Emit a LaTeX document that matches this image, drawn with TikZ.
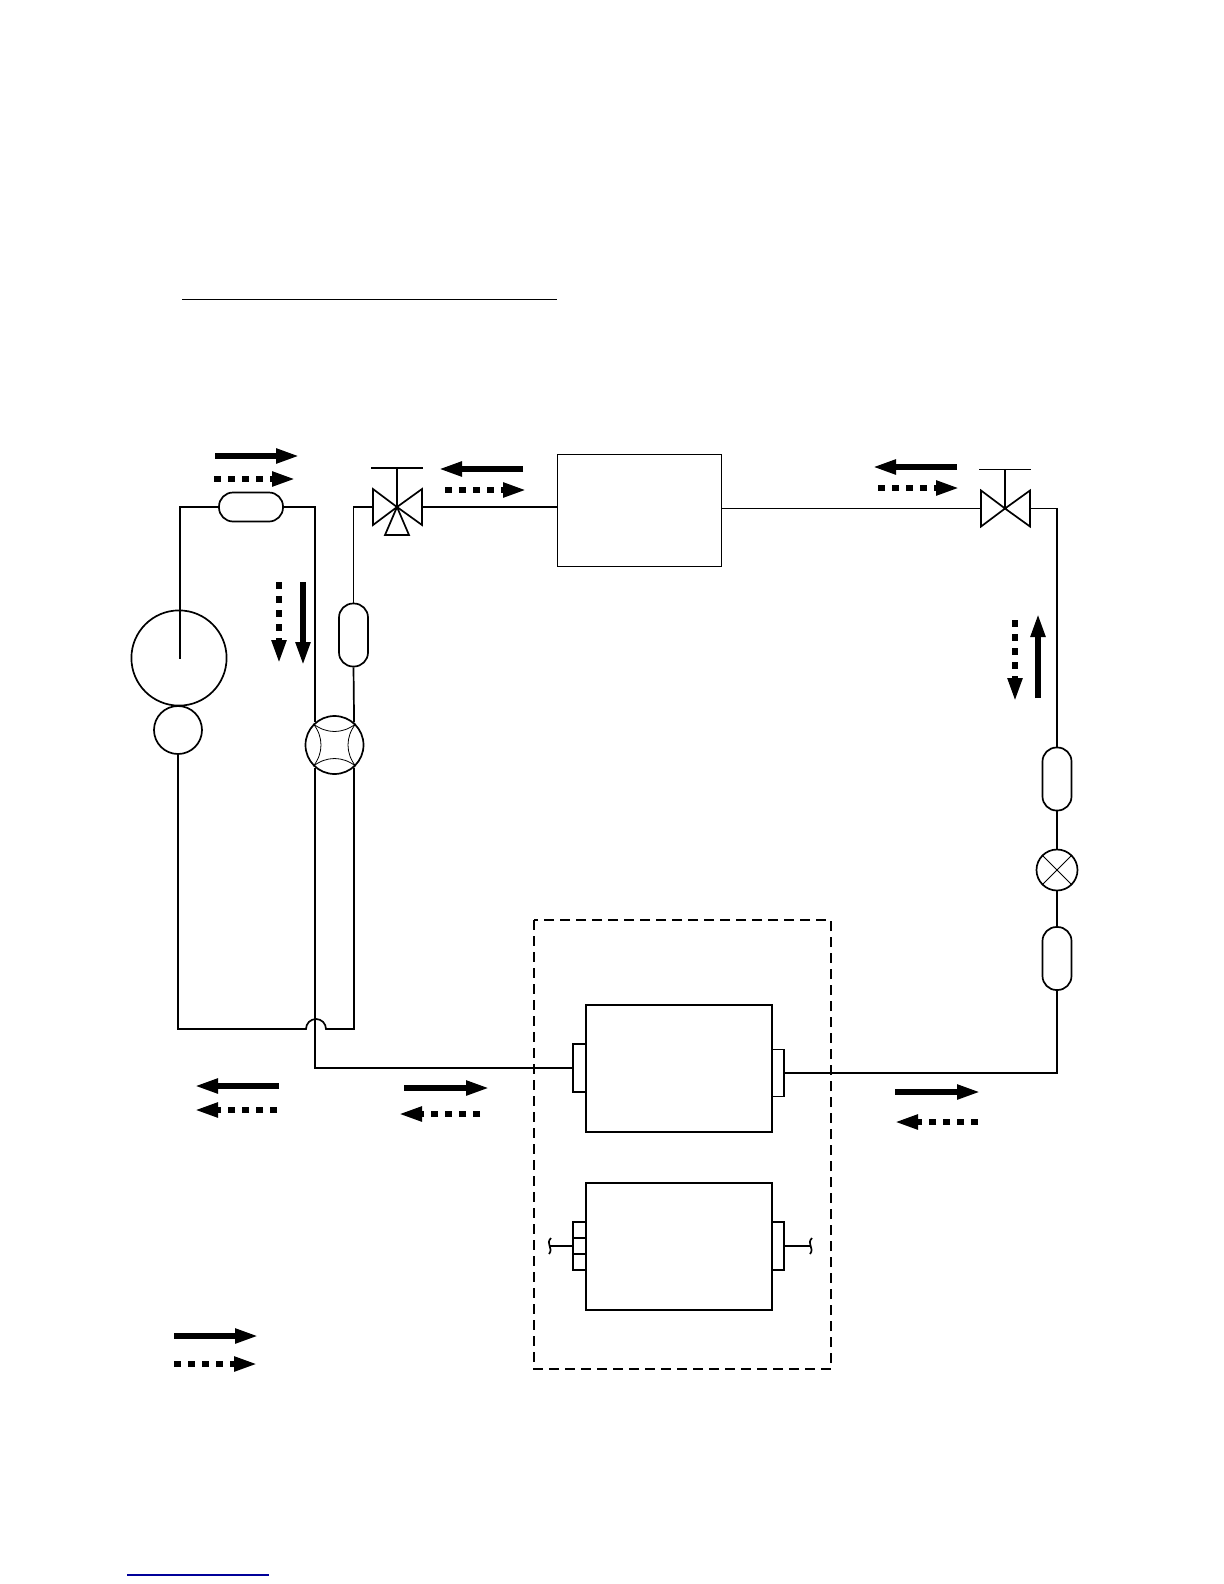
\documentclass[tikz,border=0pt]{standalone}
\usepackage{tikz}
\usetikzlibrary{arrows.meta}
\tikzset{
 pipe/.style={line width=.85pt},
 fine/.style={line width=.4pt},
 pillh/.style={draw,pipe,rounded corners=7pt,minimum width=32pt,minimum height=14.5pt,inner sep=0pt},
 pillv/.style={draw,pipe,rounded corners=7pt,minimum width=14.5pt,minimum height=31.5pt,inner sep=0pt},
 ring/.style={draw,pipe,circle,inner sep=0pt},
 unitbox/.style={draw,pipe,minimum width=93pt,minimum height=63.5pt,inner sep=0pt},
 tabbox/.style={draw,pipe,minimum width=6.3pt,inner sep=0pt},
 flow/.style={-{Triangle[length=11.5pt,width=7pt]},line width=2.6pt,shorten >=-1pt},
 dotflow/.style={flow,dash pattern=on 3.5pt off 3.5pt},
}
\begin{document}
\begin{tikzpicture}[x=.5pt,y=-.5pt]
 \useasboundingbox (0,0) rectangle (1224,1584);
 \draw[line width=.5pt] (182,299)--(557,299); %top rule
 \draw[blue!60!black,line width=.6pt] (127,1575)--(269,1575); %bottom rule

 \node[pillh] (filter) at (251,507) {}; %filter above compressor
 \node[ring,minimum size=47.6pt] (shell) at (179,658) {}; %compressor
 \node[ring,minimum size=24pt] (accum) at (178,730) {}; %accumulator
 \node[ring,minimum size=29pt] (fourway) at (334.5,745) {}; %four way valve
 \node[pillv] (pillgas) at (353.5,635) {};
 \node[unitbox,minimum width=82pt,minimum height=56pt] (gasbox) at (639.5,510.5) {}; %box top
 \node[pillv] (pillup) at (1057,779) {};
 \node[ring,minimum size=20.5pt] (expv) at (1057,870) {}; %expansion valve
 \node[pillv] (pilldown) at (1057,958.5) {};
 \node[unitbox] (coilA) at (679,1068.5) {}; %coil
 \node[unitbox] (coilB) at (679,1246.5) {}; %second coil
 \node[tabbox,minimum height=24pt] (tabAl) at (579.5,1068) {};
 \node[tabbox,minimum height=23.5pt] (tabAr) at (778,1073) {};
 \node[tabbox,minimum height=24pt] (tabBr) at (778,1246) {};
 \node[tabbox,minimum height=8pt] (tabBa) at (579.5,1230) {};
 \node[tabbox,minimum height=8pt] (tabBb) at (579.5,1246) {};
 \node[tabbox,minimum height=8pt] (tabBc) at (579.5,1262) {};

 \coordinate (shellin) at (180,659);
 \coordinate (valveA) at (397,507);
 \coordinate (valveAl) at (373,507);
 \coordinate (valveAr) at (421,507);
 \coordinate (valveB) at (1005,508.5);
 \coordinate (valveBl) at (981,508.5);
 \coordinate (valveBr) at (1030,508.5);
 \coordinate (hopL) at (306,1029);
 \coordinate (wireL) at (550,1246);
 \coordinate (wireR) at (811,1246);

 \draw[pipe,line join=miter] (filter.west)-|(shellin); %suction side
 \draw[pipe] (filter.east)-|(fourway.131);
 \draw[pipe] (fourway.229)|-(tabAl.west);
 \draw[pipe] (fourway.49)--(pillgas.south);
 \draw[pipe] (pillgas.north)|-(valveAl);
 \draw[pipe] (valveAr)--(valveAr-|gasbox.west);
 \draw[pipe] (gasbox.east|-valveBl)--(valveBl);
 \draw[pipe] (valveBr)-|(pillup.north);
 \draw[pipe] (pillup.south)--(expv.north);
 \draw[pipe] (expv.south)--(pilldown.north);
 \draw[pipe] (pilldown.south)|-(tabAr.east);
 \draw[pipe] (accum.south)|-(hopL) arc[start angle=180,end angle=0,radius=5pt]-|(fourway.311); %hop over pipe
 \draw[pipe] (tabBb.west)--(wireL);
 \draw[pipe] (tabBr.east)--(wireR);

 \foreach \w in {wireL,wireR}
  \draw[pipe] ([shift={(1,-8)}]\w) .. controls ([shift={(-5,-2)}]\w) and ([shift={(4,2)}]\w) .. ([shift={(-1,8)}]\w); %cut end

 \foreach \v in {valveA,valveB}{
  \draw[pipe,line join=miter] (\v)--+(-24,-18)--+(-24,18)--cycle; %valve
  \draw[pipe,line join=miter] (\v)--+(25,-18)--+(25,18)--cycle;
  \draw[pipe] (\v)--+(0,-39);
  \draw[pipe] ([shift={(-26,-39)}]\v)--([shift={(26,-39)}]\v);
 }
 \draw[pipe,line join=miter] (valveA)--+(-12,28)--+(12,28)--cycle; %third port

 \draw[fine] (fourway.45) to[bend left=38] (fourway.135);
 \draw[fine] (fourway.135) to[bend left=38] (fourway.225);
 \draw[fine] (fourway.225) to[bend left=38] (fourway.315);
 \draw[fine] (fourway.315) to[bend left=38] (fourway.45);
 \draw[fine] (expv.45)--(expv.225);
 \draw[fine] (expv.135)--(expv.315);

 \draw[pipe,dash pattern=on 5pt off 3pt,line width=.7pt] (534,920) rectangle (831,1369); %indoor unit

 \foreach \xa/\ya/\xb/\yb in {215/456/297/456,523/469/441/469,957/467/875/467,303/582/303/663,1038/698/1038/616,
  279/1086/197/1086,404/1088/487/1088,895/1092/978/1092,174/1336/256/1336}
  \draw[flow] (\xa,\ya)--(\xb,\yb); %solid arrows
 \foreach \xa/\ya/\xb/\yb in {214/479/293/479,445/490/524/490,878/488/957/488,279/582/279/661,1015/620/1015/699,
  277/1110/197/1110,480/1114/401/1114,978/1122/897/1122,174/1364/255/1364}
  \draw[dotflow] (\xa,\ya)--(\xb,\yb); %dotted arrows
\end{tikzpicture}
\end{document}
